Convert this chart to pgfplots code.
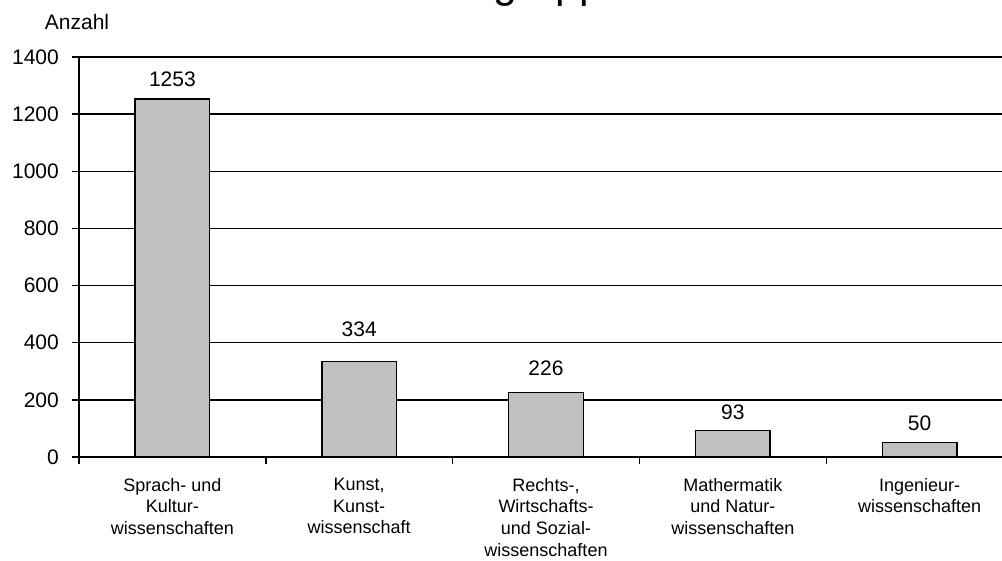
\documentclass[border=0pt]{standalone}
\usepackage{fontspec}
\setmainfont{Liberation Sans}
\usepackage{pgfplots}
\usepackage{pgfplotstable}
\pgfplotsset{compat=1.18}

\definecolor{barfill}{HTML}{C0C0C0}

% counts per subject group; gap = distance of the value label above the bar
\pgfplotstableread{
x y gap
0 1253 12
1 334 24
2 226 16
3 93 10
4 50 11
}\datatable

\begin{document}
\begin{tikzpicture}
\begin{axis}[
  at={(79pt,-457pt)}, anchor=south west,
  scale only axis, width=934pt, height=400pt,
  xmin=-0.5, xmax=4.5, ymin=0, ymax=1400,
  ytick={0,200,...,1400},
  xtick={0,1,2,3,4},
  minor xtick={-0.5,0.5,1.5,2.5,3.5,4.5},
  xticklabels={
    {Sprach- und\\Kultur-\\wissenschaften},
    {Kunst,\\Kunst-\\wissenschaft},
    {Rechts-,\\Wirtschafts-\\und Sozial-\\wissenschaften},
    {Mathermatik\\und Natur-\\wissenschaften},
    {Ingenieur-\\wissenschaften}},
  axis x line*=bottom, axis y line*=left,
  axis line style={line width=1.8pt, -},
  ymajorgrids, grid style={black, line width=1.5pt},
  tick align=outside,
  major tick length=7pt, minor tick length=7pt,
  tick style={black, line width=1.4pt},
  major x tick style={draw=none},
  /pgf/number format/assume math mode=true,
  /pgf/number format/set thousands separator={},
  yticklabel style={font=\fontsize{21}{25}\selectfont, inner sep=0pt, xshift=-13pt},
  xticklabel style={font=\fontsize{18}{21.7}\selectfont, align=center, inner sep=0pt, yshift=-14pt},
  ybar, bar width=0.4,
  nodes near coords,
  visualization depends on={\thisrow{gap} \as \gap},
  nodes near coords style={font=\fontsize{21}{25}\selectfont, anchor=south, inner sep=0pt, yshift=\gap},
]
\addplot[fill=barfill, draw=black, line width=1.4pt] table[x=x, y=y] {\datatable};
\end{axis}
\node[anchor=base, inner sep=0pt, font=\fontsize{21}{25}\selectfont] at (77pt,-30pt) {Anzahl};
\node[anchor=base, inner sep=0pt, font=\fontsize{43}{50}\selectfont] at (505pt,2pt) {Fächergruppen};
\pgfresetboundingbox
\path[use as bounding box] (0pt,0pt) rectangle (1002pt,-561pt);
\end{tikzpicture}
\end{document}
